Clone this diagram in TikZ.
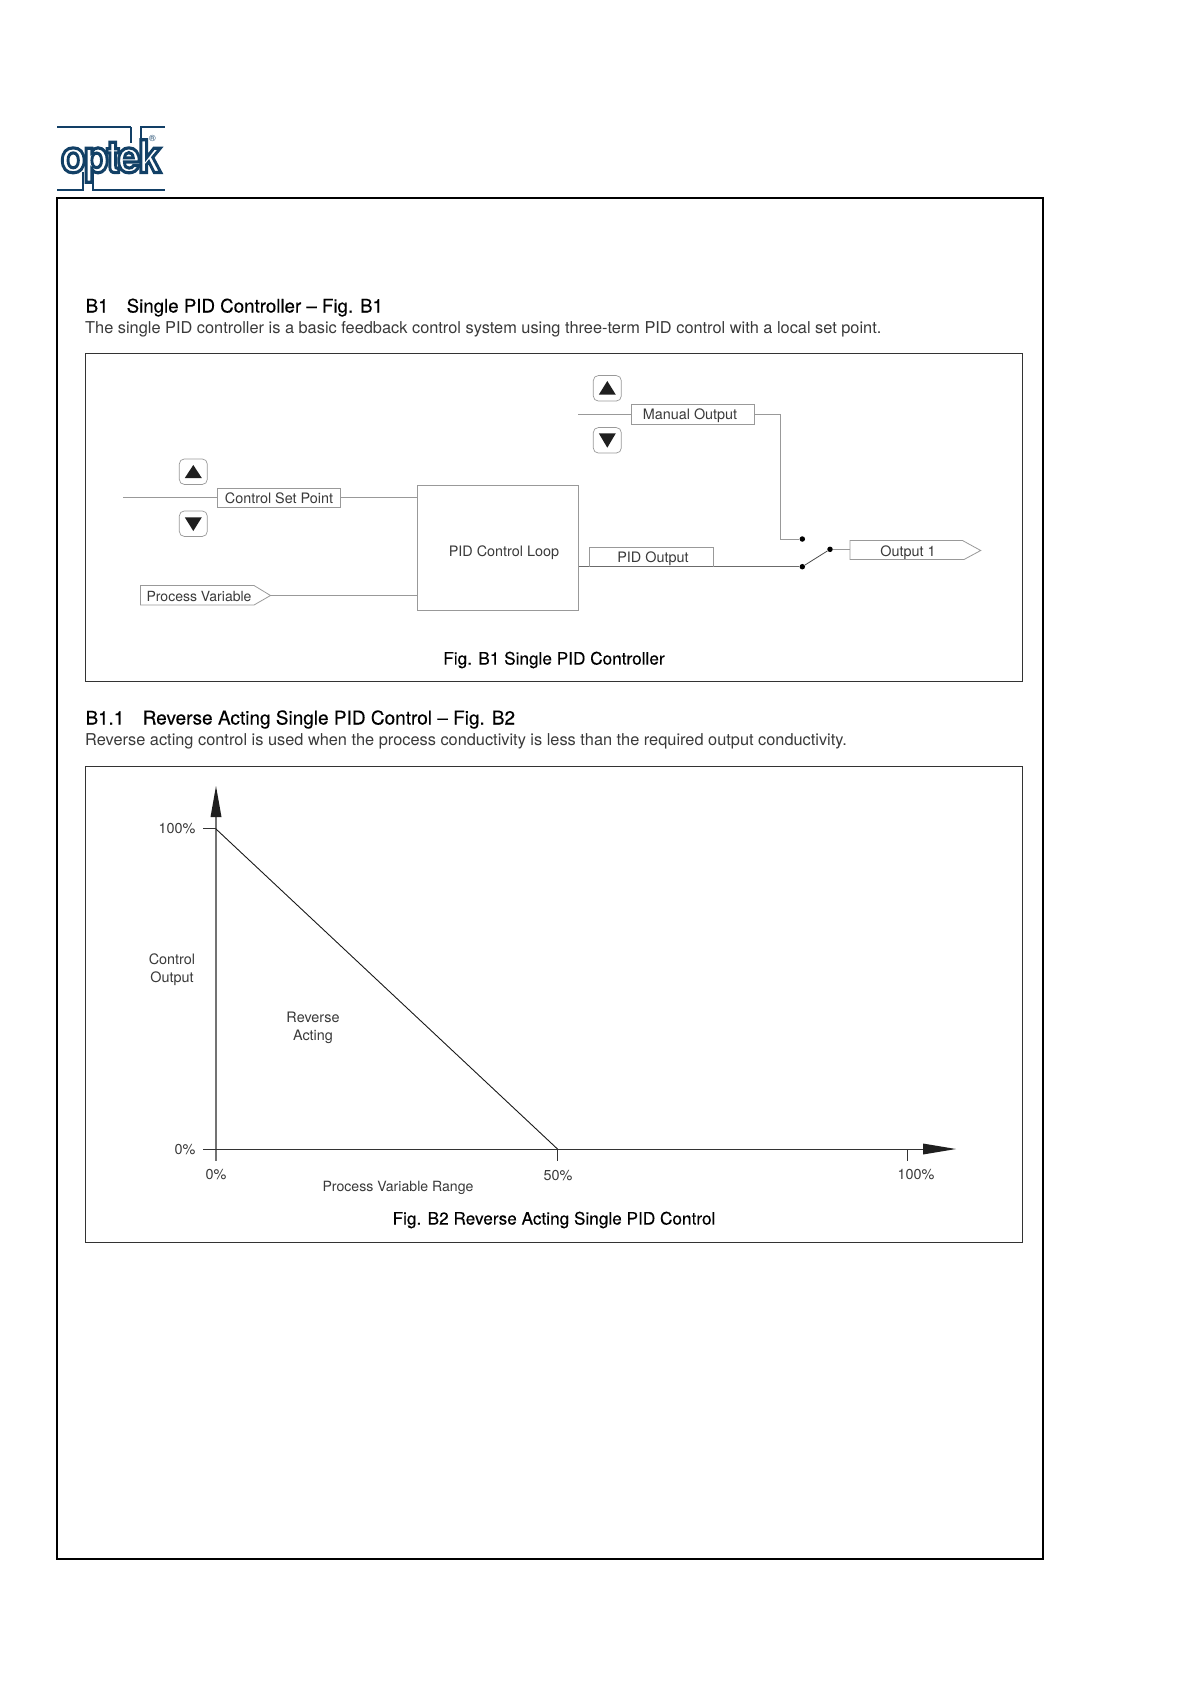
\documentclass[tikz,border=0pt]{standalone}
\usepackage{fontspec}
\setmainfont{TeX Gyre Heros}
\newfontfamily\medfont[FakeBold=0.25]{TeX Gyre Heros}
\newfontfamily\logofont[LetterSpace=-5,BoldFont=*]{TeX Gyre Heros Bold}
\usetikzlibrary{shapes.geometric}
\definecolor{navy}{HTML}{123F66}
\definecolor{ln}{HTML}{999999}
\definecolor{tx}{HTML}{3A3A3A}
\tikzset{
 x=1pt,y=-1pt,
 frame/.style={draw=black,line width=1.5pt},
 panel/.style={draw=black!80,line width=.9pt},
 thin line/.style={draw=ln,line width=.8pt},
 lbl/.style={font=\fontsize{14.4}{17}\selectfont,text=tx,inner sep=0pt},
 head/.style={font=\fontsize{18.7}{20}\selectfont\medfont,text=black,anchor=base west,inner sep=0pt},
 para/.style={font=\fontsize{16.35}{18}\selectfont,text=tx,anchor=base west,inner sep=0pt},
 figcap/.style={font=\fontsize{17.2}{19}\selectfont\medfont,text=black,inner sep=0pt},
 btn/.style={draw=ln,line width=.7pt,rounded corners=5pt,minimum width=28pt,minimum height=25.5pt,inner sep=0pt},
 tri/.style={fill=black!88,draw=none},
 dot/.style={circle,fill=black,inner sep=0pt,minimum size=5.5pt},
 tag/.style={thin line,fill=white},
 axis line/.style={draw=black!80,line width=1pt},
 yaxis line/.style={draw=black!55,line width=1.1pt}
}
\begin{document}
\begin{tikzpicture}
\useasboundingbox (0,0) rectangle (1190,1684);
\fill[white] (0,0) rectangle (1190,1684);
% logo
\draw[navy,line width=2.2pt] (57,127) -- (131,127) (131,127) -- (131,143) (141,143) -- (141,127) -- (165,127);
\draw[navy,line width=2.2pt] (57,190) -- (83,190) -- (83,172) (93,172) -- (93,190) -- (165,190);
\node[inner sep=0pt,font=\fontsize{40}{40}\selectfont\logofont,text=white] (logo) at (111,161) {\scalebox{1.02}[1.12]{\special{pdf:literal 2 Tr 2.8 w 0.07 0.25 0.4 RG}optek\special{pdf:literal 0 Tr}}};
\node[inner sep=0pt,font=\fontsize{9}{9}\selectfont,text=navy] (reg) at (152.5,138) {®};
% frames
\draw[frame] (57,198) rectangle (1043,1559);
\draw[panel] (85.5,353.5) rectangle (1022.5,681);
\draw[panel] (85.5,766.5) rectangle (1022.5,1242.5);
% heading
\node[head] (h1a) at (85.5,312.5) {B1};
\node[head] (h1b) at (126.5,312.5) {Single PID Controller – Fig. B1};
\node[para] (p1) at (85,333) {The single PID controller is a basic feedback control system using three-term PID control with a local set point.};
\node[head] (h2a) at (85.5,724.5) {B1.1};
\node[head,font=\fontsize{19}{20}\selectfont\medfont] (h2b) at (142.5,724.5) {Reverse Acting Single PID Control – Fig. B2};
\node[para] (p2) at (85,745) {Reverse acting control is used when the process conductivity is less than the required output conductivity.};
% Fig B1
\node[thin line,draw,minimum width=161.4pt,minimum height=125pt,inner sep=0pt] (pid) at (498,547.8) {};
\node[lbl] (pidt) at (504,552.5) {PID Control Loop};
\node[tag,draw,lbl,minimum width=123.4pt,minimum height=19pt] (csp) at (279,497.8) {Control Set Point};
\coordinate (cspin) at (123,497.8);
\draw[thin line] (cspin) -- (csp.west);
\draw[thin line] (csp.east) -- (pid.west |- csp.east);
\node[btn] (u1) at (193.3,471.7) {};
\node[btn] (d1) at (193.3,523.7) {};
\fill[tri] (184.8,478) -- (193.3,465) -- (201.8,478) -- cycle;
\fill[tri] (184.8,517.3) -- (193.3,531) -- (201.8,517.3) -- cycle;
\node[lbl,font=\fontsize{14}{17}\selectfont] (pvt) at (199,596) {Process Variable};
\draw[thin line] (140.5,585.5) -- (254,585.5) -- (270.5,595.5) -- (254,605) -- (140.5,605) -- cycle;
\coordinate (pvo) at (270.5,595.5);
\draw[thin line] (pvo) -- (pid.west |- pvo);
\node[btn] (u2) at (607.3,388.3) {};
\node[btn] (d2) at (607.3,440.3) {};
\fill[tri] (598.8,394.7) -- (607.3,381) -- (615.8,394.7) -- cycle;
\fill[tri] (598.8,433.3) -- (607.3,447.7) -- (615.8,433.3) -- cycle;
\node[tag,draw,lbl,minimum width=123pt,minimum height=20pt,text depth=0pt] (mo) at (692.8,414.3) {};
\node[lbl] (mot) at (690,415.5) {Manual Output};
\coordinate (moin) at (578,414.3);
\draw[thin line] (moin) -- (mo.west);
\node[dot] (c1) at (802.3,539) {};
\node[dot] (c2) at (802.3,566.7) {};
\node[dot] (c3) at (830,549.3) {};
\draw[thin line] (mo.east) -- (780,414.3) -- (780,539) -- (c1);
\draw[draw=ln!70!black,line width=.8pt] (pid.east |- c2) -- (c2);
\draw[draw=black!70,line width=.8pt] (c2) -- (c3);
\node[lbl] (poo) at (653,558.5) {PID Output};
\draw[thin line] (589.5,566.7) -- (589.5,547.5) -- (713.7,547.5) -- (713.7,566.7);
\node[lbl] (o1t) at (908,552.5) {Output 1};
\draw[thin line] (850,540.5) -- (962.5,540.5) -- (980.7,550.5) -- (964,559.5) -- (850,559.5) -- cycle;
\coordinate (oi) at (850,549.3);
\draw[thin line] (c3) -- (oi);
\node[figcap] (cap1) at (554,660) {Fig. B1 Single PID Controller};
% Fig B2
\coordinate (o) at (216,1149);
\coordinate (y100) at (216,829);
\coordinate (x50) at (557.5,1149);
\draw[yaxis line] (216,1160.5) -- (216,815);
\fill[black!88] (216,786) -- (221.5,817) -- (210.5,817) -- cycle;
\draw[axis line] (203,1149) -- (925,1149);
\fill[black!88] (956,1149) -- (923,1143.5) -- (923,1154.5) -- cycle;
\draw[axis line] (203,828) -- (216,828);
\draw[axis line,line width=.7pt] (557.5,1149) -- (557.5,1160.5);
\draw[axis line] (907.7,1149) -- (907.7,1160.5);
\draw[draw=black!90,line width=.9pt] (y100) -- (x50);
\node[lbl] (t100) at (177,828.5) {100\%};
\node[lbl] (t0) at (185,1150) {0\%};
\node[lbl] (x0) at (216,1174.5) {0\%};
\node[lbl] (x5) at (558,1175.5) {50\%};
\node[lbl] (x1) at (916,1175) {100\%};
\node[lbl,align=center] (yl) at (172,969.5) {Control\\[1pt]Output};
\node[lbl,align=center] (rl) at (313,1028) {Reverse\\[1pt]Acting};
\node[lbl,font=\fontsize{14.1}{17}\selectfont] (xl) at (398,1187.5) {Process Variable Range};
\node[figcap] (cap2) at (554,1220) {Fig. B2 Reverse Acting Single PID Control};
\end{tikzpicture}
\end{document}
